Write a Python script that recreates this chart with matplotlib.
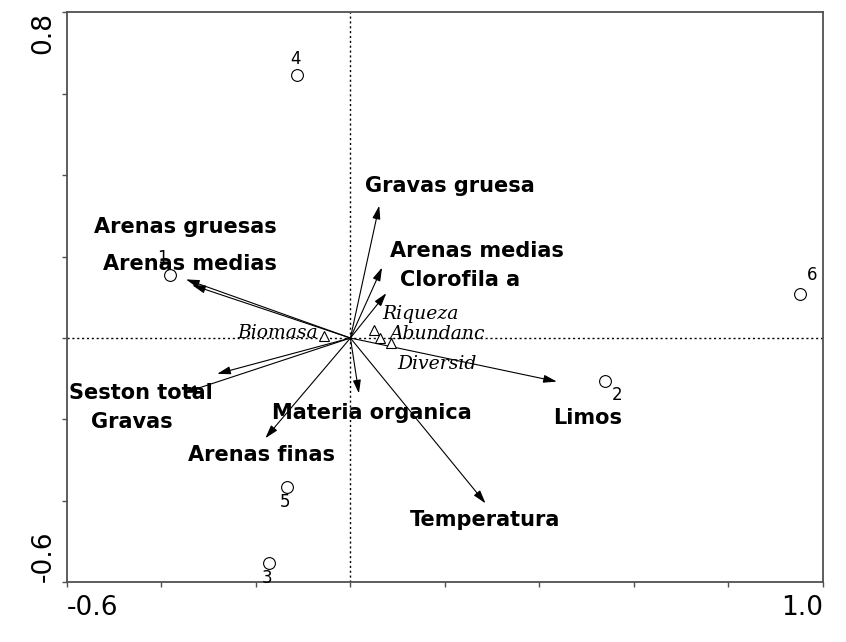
import matplotlib
matplotlib.use("Agg")
import matplotlib.pyplot as plt

# ---- data ----
# environmental variables: arrow tips
env_names = ["Gravas gruesa", "Arenas medias", "Clorofila a", "Arenas gruesas",
             "Arenas medias", "Seston total", "Gravas", "Materia organica",
             "Arenas finas", "Temperatura", "Limos"]
env_x = [0.061, 0.067, 0.076, -0.348, -0.335, -0.282, -0.353, 0.018, -0.180, 0.286, 0.437]
env_y = [0.325, 0.173, 0.110, 0.144, 0.130, -0.088, -0.135, -0.136, -0.246, -0.406, -0.107]
# label anchor (left edge, baseline)
env_lx = [0.030, 0.083, 0.104, -0.542, -0.523, -0.595, -0.550, -0.167, -0.343, 0.125, 0.430]
env_ly = [0.359, 0.200, 0.129, 0.257, 0.168, -0.149, -0.220, -0.200, -0.301, -0.461, -0.210]

# species (triangles)
sp_names = ["Biomasa", "Riqueza", "Abundanc", "Diversid"]
sp_x = [-0.055, 0.051, 0.063, 0.085]
sp_y = [0.005, 0.020, 0.000, -0.012]
sp_lx = [-0.068, 0.068, 0.083, 0.099]
sp_ly = [0.000, 0.047, -0.002, -0.076]
sp_ha = ["right", "left", "left", "left"]

# sites (circles)
site_names = ["1", "2", "3", "4", "5", "6"]
site_x = [-0.382, 0.540, -0.172, -0.114, -0.134, 0.951]
site_y = [0.155, -0.106, -0.553, 0.645, -0.366, 0.109]
site_lx = [-0.398, 0.565, -0.176, -0.117, -0.138, 0.978]
site_ly = [0.197, -0.140, -0.590, 0.686, -0.402, 0.155]

xticks = [-0.6, -0.4, -0.2, 0.0, 0.2, 0.4, 0.6, 0.8, 1.0]
xticklabels = ["-0.6", "", "", "", "", "", "", "", "1.0"]
yticks = [-0.6, -0.4, -0.2, 0.0, 0.2, 0.4, 0.6, 0.8]
yticklabels = ["-0.6", "", "", "", "", "", "", "0.8"]

# ---- figure ----
fig = plt.figure(figsize=(8.46, 6.42), dpi=100)
ax = fig.add_axes([0.0792, 0.0930, 0.9725 - 0.0792, 0.9808 - 0.0930])
ax.set_xlim(-0.6, 1.0)
ax.set_ylim(-0.6, 0.8)

for s in ax.spines.values():
    s.set_color("#505050")
    s.set_linewidth(1.3)

ax.axhline(0, color="black", lw=1.0, ls=(0, (1.5, 2)), zorder=1)
ax.axvline(0, color="black", lw=1.0, ls=(0, (1.5, 2)), zorder=1)

# arrows
for tx, ty in zip(env_x, env_y):
    ax.annotate("", xy=(tx, ty), xytext=(0, 0),
                arrowprops=dict(arrowstyle="-|>,head_length=0.8,head_width=0.24",
                                color="black", lw=0.8, shrinkA=0, shrinkB=0),
                zorder=3)
for name, lx, ly in zip(env_names, env_lx, env_ly):
    ax.text(lx, ly, name, ha="left", va="baseline", fontsize=15,
            fontweight="bold", family="DejaVu Sans", color="black", zorder=4)

# species
ax.plot(sp_x, sp_y, ls="none", marker="^", ms=7, mfc="white", mec="black",
        mew=0.8, zorder=5)
for name, lx, ly, ha in zip(sp_names, sp_lx, sp_ly, sp_ha):
    ax.text(lx, ly, name, ha=ha, va="baseline", fontsize=13.5, style="italic",
            family="DejaVu Serif", color="black", zorder=4)

# sites
ax.plot(site_x, site_y, ls="none", marker="o", ms=8.5, mfc="white", mec="black",
        mew=0.8, zorder=5)
for name, lx, ly in zip(site_names, site_lx, site_ly):
    ax.text(lx, ly, name, ha="center", va="center", fontsize=12,
            family="DejaVu Sans", color="black", zorder=3)

# ticks
ax.set_xticks(xticks)
ax.set_xticklabels(xticklabels, fontsize=19, family="DejaVu Sans")
ax.set_yticks(yticks)
ax.set_yticklabels(yticklabels, fontsize=19, family="DejaVu Sans", rotation=90)
ax.tick_params(direction="out", length=3.5, width=1, color="#505050")
ax.tick_params(axis="x", pad=6)
ax.tick_params(axis="y", pad=4)
xl = ax.get_xticklabels()
xl[0].set_ha("left")
xl[-1].set_ha("right")
yl = ax.get_yticklabels()
yl[0].set_va("bottom")
yl[-1].set_va("top")
for l in yl:
    l.set_ha("right")

fig.savefig("out.png", dpi=100)
